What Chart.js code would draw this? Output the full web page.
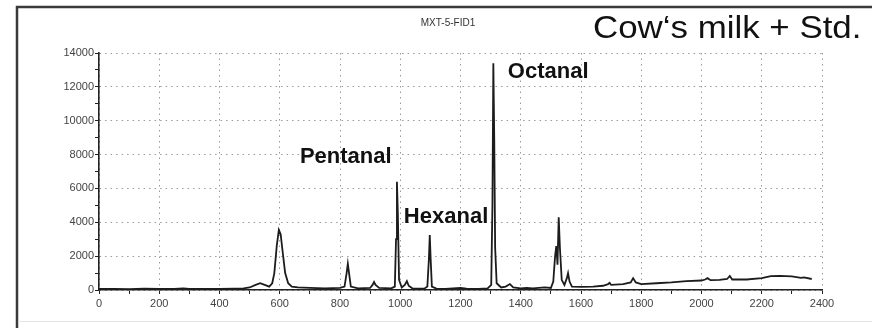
<!DOCTYPE html>
<html>
<head>
<meta charset="utf-8">
<script src="https://cdn.jsdelivr.net/npm/chart.js@4/dist/chart.umd.min.js"></script>
<style>
  html, body { margin: 0; padding: 0; background: #fff; }
  canvas { display: block; }
</style>
</head>
<body>
<canvas id="chromChart" width="872" height="328"></canvas>
<script>
// Chromatogram (retention axis vs. detector signal)
const retentionTime = [
  0, 50, 100, 150, 200, 250, 280, 300, 350, 400, 450, 480, 500, 520, 535, 550, 565,
  575, 582, 590, 597, 603, 610, 618, 628, 640, 660, 700, 750, 800, 815, 822, 826, 830,
  836, 860, 900, 908, 913, 918, 930, 970, 982, 986, 989, 992, 996, 1005, 1015, 1022,
  1028, 1040, 1080, 1090, 1095, 1098, 1101, 1105, 1120, 1150, 1200, 1220, 1260, 1290,
  1302, 1306, 1309, 1312, 1315, 1320, 1335, 1350, 1364, 1375, 1400, 1420, 1440, 1480,
  1500, 1508, 1514, 1518, 1522, 1526, 1530, 1536, 1545, 1553, 1557, 1562, 1570, 1600,
  1640, 1673, 1690, 1695, 1700, 1740, 1765, 1773, 1782, 1800, 1850, 1900, 1950, 2000,
  2012, 2020, 2030, 2060, 2085, 2094, 2102, 2150, 2200, 2230, 2260, 2300, 2330, 2340, 2366
];
const signal = [
  60, 70, 50, 80, 60, 70, 90, 60, 70, 60, 80, 100, 150, 300, 400, 300, 200,
  400, 1000, 2600, 3550, 3300, 2200, 1000, 400, 200, 150, 120, 100, 120, 200, 1000, 1550, 1000,
  200, 100, 120, 300, 470, 300, 120, 100, 200, 3000, 6400, 4500, 600, 150, 300, 520,
  250, 100, 80, 200, 1800, 3250, 1800, 200, 80, 70, 120, 80, 60, 100,
  300, 5000, 13400, 9000, 2500, 400, 150, 200, 350, 150, 100, 120, 100, 150,
  120, 500, 2000, 2600, 1500, 4300, 2500, 600, 300, 700, 1000, 500, 200, 180,
  200, 250, 350, 420, 300, 350, 450, 700, 450, 350, 400, 450, 520, 560,
  620, 700, 580, 600, 650, 830, 620, 620, 700, 820, 840, 800, 720, 740, 650
];

// Axis ranges / ticks
const xMin = 0, xMax = 2400, xStep = 100, xLabelEvery = 200;
const yMin = 0, yMax = 14000, yStep = 1000, yLabelEvery = 2000;

// Peak annotations (anchored in data units: left edge, vertical centre)
const peakNames = ['Pentanal', 'Hexanal', 'Octanal'];
const peakLabelX = [667, 1012, 1357];
const peakLabelY = [7850, 4300, 12880];

const chartTitle = 'MXT-5-FID1';
const sampleName = 'Cow\u2018s milk + Std.';

const points = retentionTime.map((t, i) => ({ x: t, y: signal[i] }));

const decorPlugin = {
  id: 'decor',
  beforeDraw(chart) {
    const ctx = chart.ctx;
    ctx.save();
    ctx.fillStyle = '#fff';
    ctx.fillRect(0, 0, chart.width, chart.height);
    ctx.restore();
  },
  afterDraw(chart) {
    const ctx = chart.ctx;
    const xs = chart.scales.x, ys = chart.scales.y;
    ctx.save();
    // picture frame
    ctx.strokeStyle = '#3a3a3a';
    ctx.lineWidth = 2.5;
    ctx.beginPath();
    ctx.moveTo(17, 328);
    ctx.lineTo(17, 7);
    ctx.lineTo(872, 7);
    ctx.stroke();
    ctx.strokeStyle = '#e4e4e4';
    ctx.lineWidth = 1;
    ctx.beginPath();
    ctx.moveTo(18, 321.5);
    ctx.lineTo(872, 321.5);
    ctx.stroke();

    // small instrument title
    ctx.fillStyle = '#333';
    ctx.font = '10px "Liberation Sans", Arial, sans-serif';
    ctx.textAlign = 'center';
    ctx.textBaseline = 'middle';
    ctx.fillText(chartTitle, 448, 23);

    // sample name (the source image is slightly stretched sideways)
    ctx.save();
    ctx.fillStyle = '#111';
    ctx.font = '32px "Liberation Sans", Arial, sans-serif';
    ctx.textAlign = 'left';
    ctx.textBaseline = 'alphabetic';
    ctx.translate(593, 38);
    ctx.scale(1.09, 1);
    ctx.fillText(sampleName, 0, 0);
    ctx.restore();

    // peak names
    ctx.fillStyle = '#111';
    ctx.textAlign = 'left';
    ctx.font = 'bold 22px "Liberation Sans", Arial, sans-serif';
    ctx.textBaseline = 'middle';
    peakNames.forEach((name, i) => {
      ctx.fillText(name, xs.getPixelForValue(peakLabelX[i]), ys.getPixelForValue(peakLabelY[i]));
    });
    ctx.restore();
  }
};

const tickFont = { family: '"Liberation Sans", Arial, sans-serif', size: 11 };

new Chart(document.getElementById('chromChart'), {
  type: 'line',
  data: {
    datasets: [{
      data: points,
      borderColor: '#1c1c1c',
      borderWidth: 1.8,
      pointRadius: 0,
      tension: 0,
      fill: false
    }]
  },
  options: {
    responsive: false,
    animation: false,
    devicePixelRatio: 1,
    layout: { padding: { left: 20, right: 50, top: 53, bottom: 14 } },
    plugins: { legend: { display: false }, tooltip: { enabled: false } },
    scales: {
      x: {
        type: 'linear',
        min: xMin, max: xMax,
        afterFit: s => { s.height = 24; },
        ticks: {
          stepSize: xStep,
          autoSkip: false,
          maxRotation: 0,
          padding: 3,
          color: '#444',
          font: tickFont,
          callback: v => (v % xLabelEvery === 0 ? String(v) : '')
        },
        grid: {
          color: c => (c.tick && c.tick.value % xLabelEvery === 0 ? '#9a9a9a' : 'rgba(0,0,0,0)'),
          lineWidth: 1,
          tickColor: '#222',
          tickLength: 4
        },
        border: { display: true, color: '#222', width: 1.6, dash: [1.5, 4] }
      },
      y: {
        min: yMin, max: yMax,
        afterFit: s => { s.width = 79; },
        ticks: {
          stepSize: yStep,
          autoSkip: false,
          padding: 1,
          color: '#444',
          font: tickFont,
          callback: v => (v % yLabelEvery === 0 ? String(v) : '')
        },
        grid: {
          color: c => (c.tick && c.tick.value % yLabelEvery === 0 ? '#9a9a9a' : 'rgba(0,0,0,0)'),
          lineWidth: 1,
          tickColor: '#222',
          tickLength: 4
        },
        border: { display: true, color: '#222', width: 1.6, dash: [1.5, 4] }
      }
    }
  },
  plugins: [decorPlugin]
});
</script>
</body>
</html>
